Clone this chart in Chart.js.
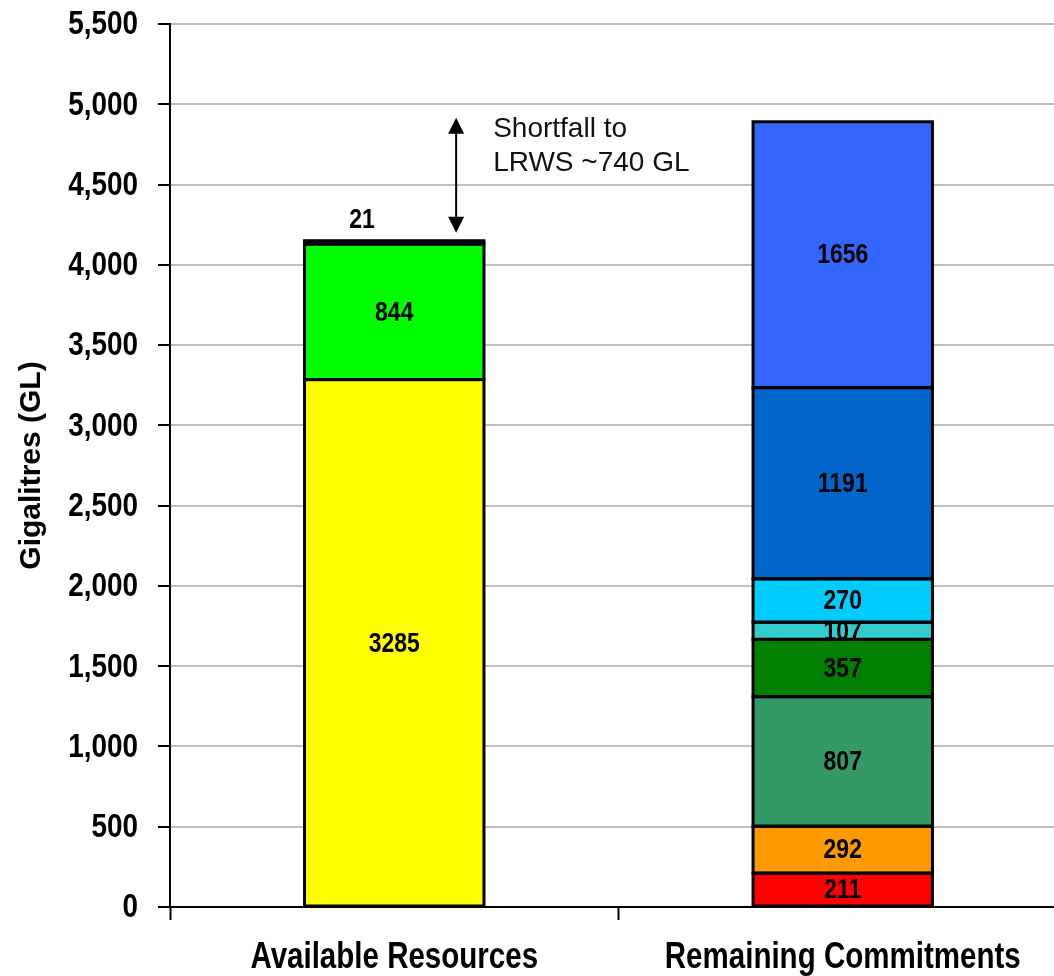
<!DOCTYPE html>
<html>
<head>
<meta charset="utf-8">
<script src="https://cdn.jsdelivr.net/npm/chart.js@4/dist/chart.umd.min.js"></script>
<style>
  html, body { margin: 0; padding: 0; background: #fff; overflow: hidden; }
  #wrap { width: 1080px; height: 976px; position: relative; }
</style>
</head>
<body>
<div id="wrap"><canvas id="c"></canvas></div>
<script>
// ---- Data ----
const categories = ['Available Resources', 'Remaining Commitments'];
const availableValues = [3285, 844, 21];
const availableColors = ['#FFFF00', '#00FF00', '#000000'];
const commitmentValues = [211, 292, 807, 357, 107, 270, 1191, 1656];
const commitmentColors = ['#FF0000', '#FF9900', '#339966', '#008000', '#33CCCC', '#00CCFF', '#0066CC', '#3366FF'];
const yTicks = [0, 500, 1000, 1500, 2000, 2500, 3000, 3500, 4000, 4500, 5000, 5500];
const yTitle = 'Gigalitres (GL)';
const annotationLines = ['Shortfall to', 'LRWS ~740 GL'];

const SANS = '"Liberation Sans", Arial, sans-serif';
const NARROW_SCALE = 0.82;

function narrowText(ctx, text, x, y, size, align) {
  ctx.save();
  ctx.font = 'bold ' + size + 'px ' + SANS;
  ctx.textAlign = align;
  ctx.textBaseline = 'middle';
  ctx.fillStyle = '#000';
  ctx.translate(x, y);
  ctx.scale(NARROW_SCALE, 1);
  ctx.fillText(text, 0, 0);
  ctx.restore();
}

const datasets = [];
availableValues.forEach((v, i) => {
  datasets.push({ label: 'A' + i, data: [v, null], backgroundColor: availableColors[i], smallTop: i === availableValues.length - 1 });
});
commitmentValues.forEach((v, i) => {
  datasets.push({ label: 'C' + i, data: [null, v], backgroundColor: commitmentColors[i] });
});
datasets.forEach(d => {
  d.borderWidth = 0;
  d.categoryPercentage = 1.0;
  d.barPercentage = 0.4;
});

const availTotal = availableValues.reduce((a, b) => a + b, 0);
const commitTotal = commitmentValues.reduce((a, b) => a + b, 0);

const segPlugin = {
  id: 'segments',
  afterDatasetsDraw(chart) {
    const ctx = chart.ctx;
    // labels first (borders drawn over them, like the original)
    chart.data.datasets.forEach((ds, di) => {
      const meta = chart.getDatasetMeta(di);
      meta.data.forEach((el, idx) => {
        const v = ds.data[idx];
        if (v === null || v === undefined) return;
        if (ds.smallTop) {
          narrowText(ctx, String(v), el.x - el.width * 0.18, el.y - 20, 28, 'center');
        } else {
          narrowText(ctx, String(v), el.x, (el.y + el.base) / 2 + 1, 28, 'center');
        }
      });
    });
    ctx.save();
    ctx.strokeStyle = '#000';
    ctx.lineWidth = 3;
    chart.data.datasets.forEach((ds, di) => {
      const meta = chart.getDatasetMeta(di);
      meta.data.forEach((el, idx) => {
        const v = ds.data[idx];
        if (v === null || v === undefined) return;
        const left = el.x - el.width / 2;
        const top = Math.min(el.y, el.base);
        const h = Math.abs(el.base - el.y);
        ctx.strokeRect(left, top, el.width, h);
      });
    });
    ctx.restore();
  }
};

const axisTextPlugin = {
  id: 'axisText',
  afterDraw(chart) {
    const ctx = chart.ctx;
    const ys = chart.scales.y, xs = chart.scales.x;
    ys.ticks.forEach((t, i) => {
      narrowText(ctx, Number(t.value).toLocaleString('en-US'), ys.right - 32, ys.getPixelForTick(i) + 1, 34, 'right');
    });
    categories.forEach((c, i) => {
      narrowText(ctx, c, xs.getPixelForValue(i), xs.top + 51, 36, 'center');
    });
  }
};

const arrowPlugin = {
  id: 'shortfall',
  afterDraw(chart) {
    const xs = chart.scales.x, ys = chart.scales.y;
    const x0 = xs.getPixelForValue(0), x1 = xs.getPixelForValue(1);
    const ax = x0 + (x1 - x0) * 0.138;
    const yTop = ys.getPixelForValue(commitTotal) - 4;
    const yBot = ys.getPixelForValue(availTotal) - 8;
    const ctx = chart.ctx;
    ctx.save();
    ctx.strokeStyle = '#000';
    ctx.fillStyle = '#000';
    ctx.lineWidth = 2;
    ctx.beginPath();
    ctx.moveTo(ax, yTop + 12);
    ctx.lineTo(ax, yBot - 12);
    ctx.stroke();
    const hw = 8, hl = 16;
    ctx.beginPath();
    ctx.moveTo(ax, yTop); ctx.lineTo(ax - hw, yTop + hl); ctx.lineTo(ax + hw, yTop + hl); ctx.closePath(); ctx.fill();
    ctx.beginPath();
    ctx.moveTo(ax, yBot); ctx.lineTo(ax - hw, yBot - hl); ctx.lineTo(ax + hw, yBot - hl); ctx.closePath(); ctx.fill();
    ctx.font = '28px ' + SANS;
    ctx.textAlign = 'left';
    ctx.textBaseline = 'middle';
    ctx.fillStyle = '#111';
    annotationLines.forEach((t, i) => ctx.fillText(t, ax + 37, yTop + 12 + i * 34));
    ctx.restore();
  }
};

new Chart(document.getElementById('c'), {
  type: 'bar',
  data: { labels: categories, datasets },
  options: {
    responsive: true,
    maintainAspectRatio: false,
    animation: false,
    layout: { padding: { top: 24, right: 13, left: 0, bottom: 0 } },
    plugins: { legend: { display: false }, tooltip: { enabled: false } },
    scales: {
      x: {
        stacked: true,
        offset: true,
        grid: { display: true, drawOnChartArea: false, drawTicks: true, tickLength: 13, tickColor: '#000', tickWidth: 2, offset: true },
        border: { display: true, color: '#000', width: 2 },
        ticks: { color: 'rgba(0,0,0,0)', font: { family: SANS, size: 4 }, padding: 0, maxRotation: 0 },
        afterFit(s) { s.height = 69; }
      },
      y: {
        stacked: true,
        min: 0, max: 5500,
        afterBuildTicks(s) { s.ticks = yTicks.map(v => ({ value: v })); },
        ticks: {
          color: 'rgba(0,0,0,0)',
          font: { family: SANS, size: 4 },
          padding: 0,
          callback: v => Number(v).toLocaleString('en-US')
        },
        grid: { color: '#BFBFBF', lineWidth: 2, tickColor: '#000', tickLength: 12, tickWidth: 2 },
        border: { display: true, color: '#000', width: 2 },
        title: { display: true, text: yTitle, color: '#000', font: { family: SANS, size: 30, weight: 'bold' }, padding: { top: 14, bottom: 0 } },
        afterFit(s) { s.width = 170; }
      }
    }
  },
  plugins: [segPlugin, axisTextPlugin, arrowPlugin]
});
</script>
</body>
</html>
